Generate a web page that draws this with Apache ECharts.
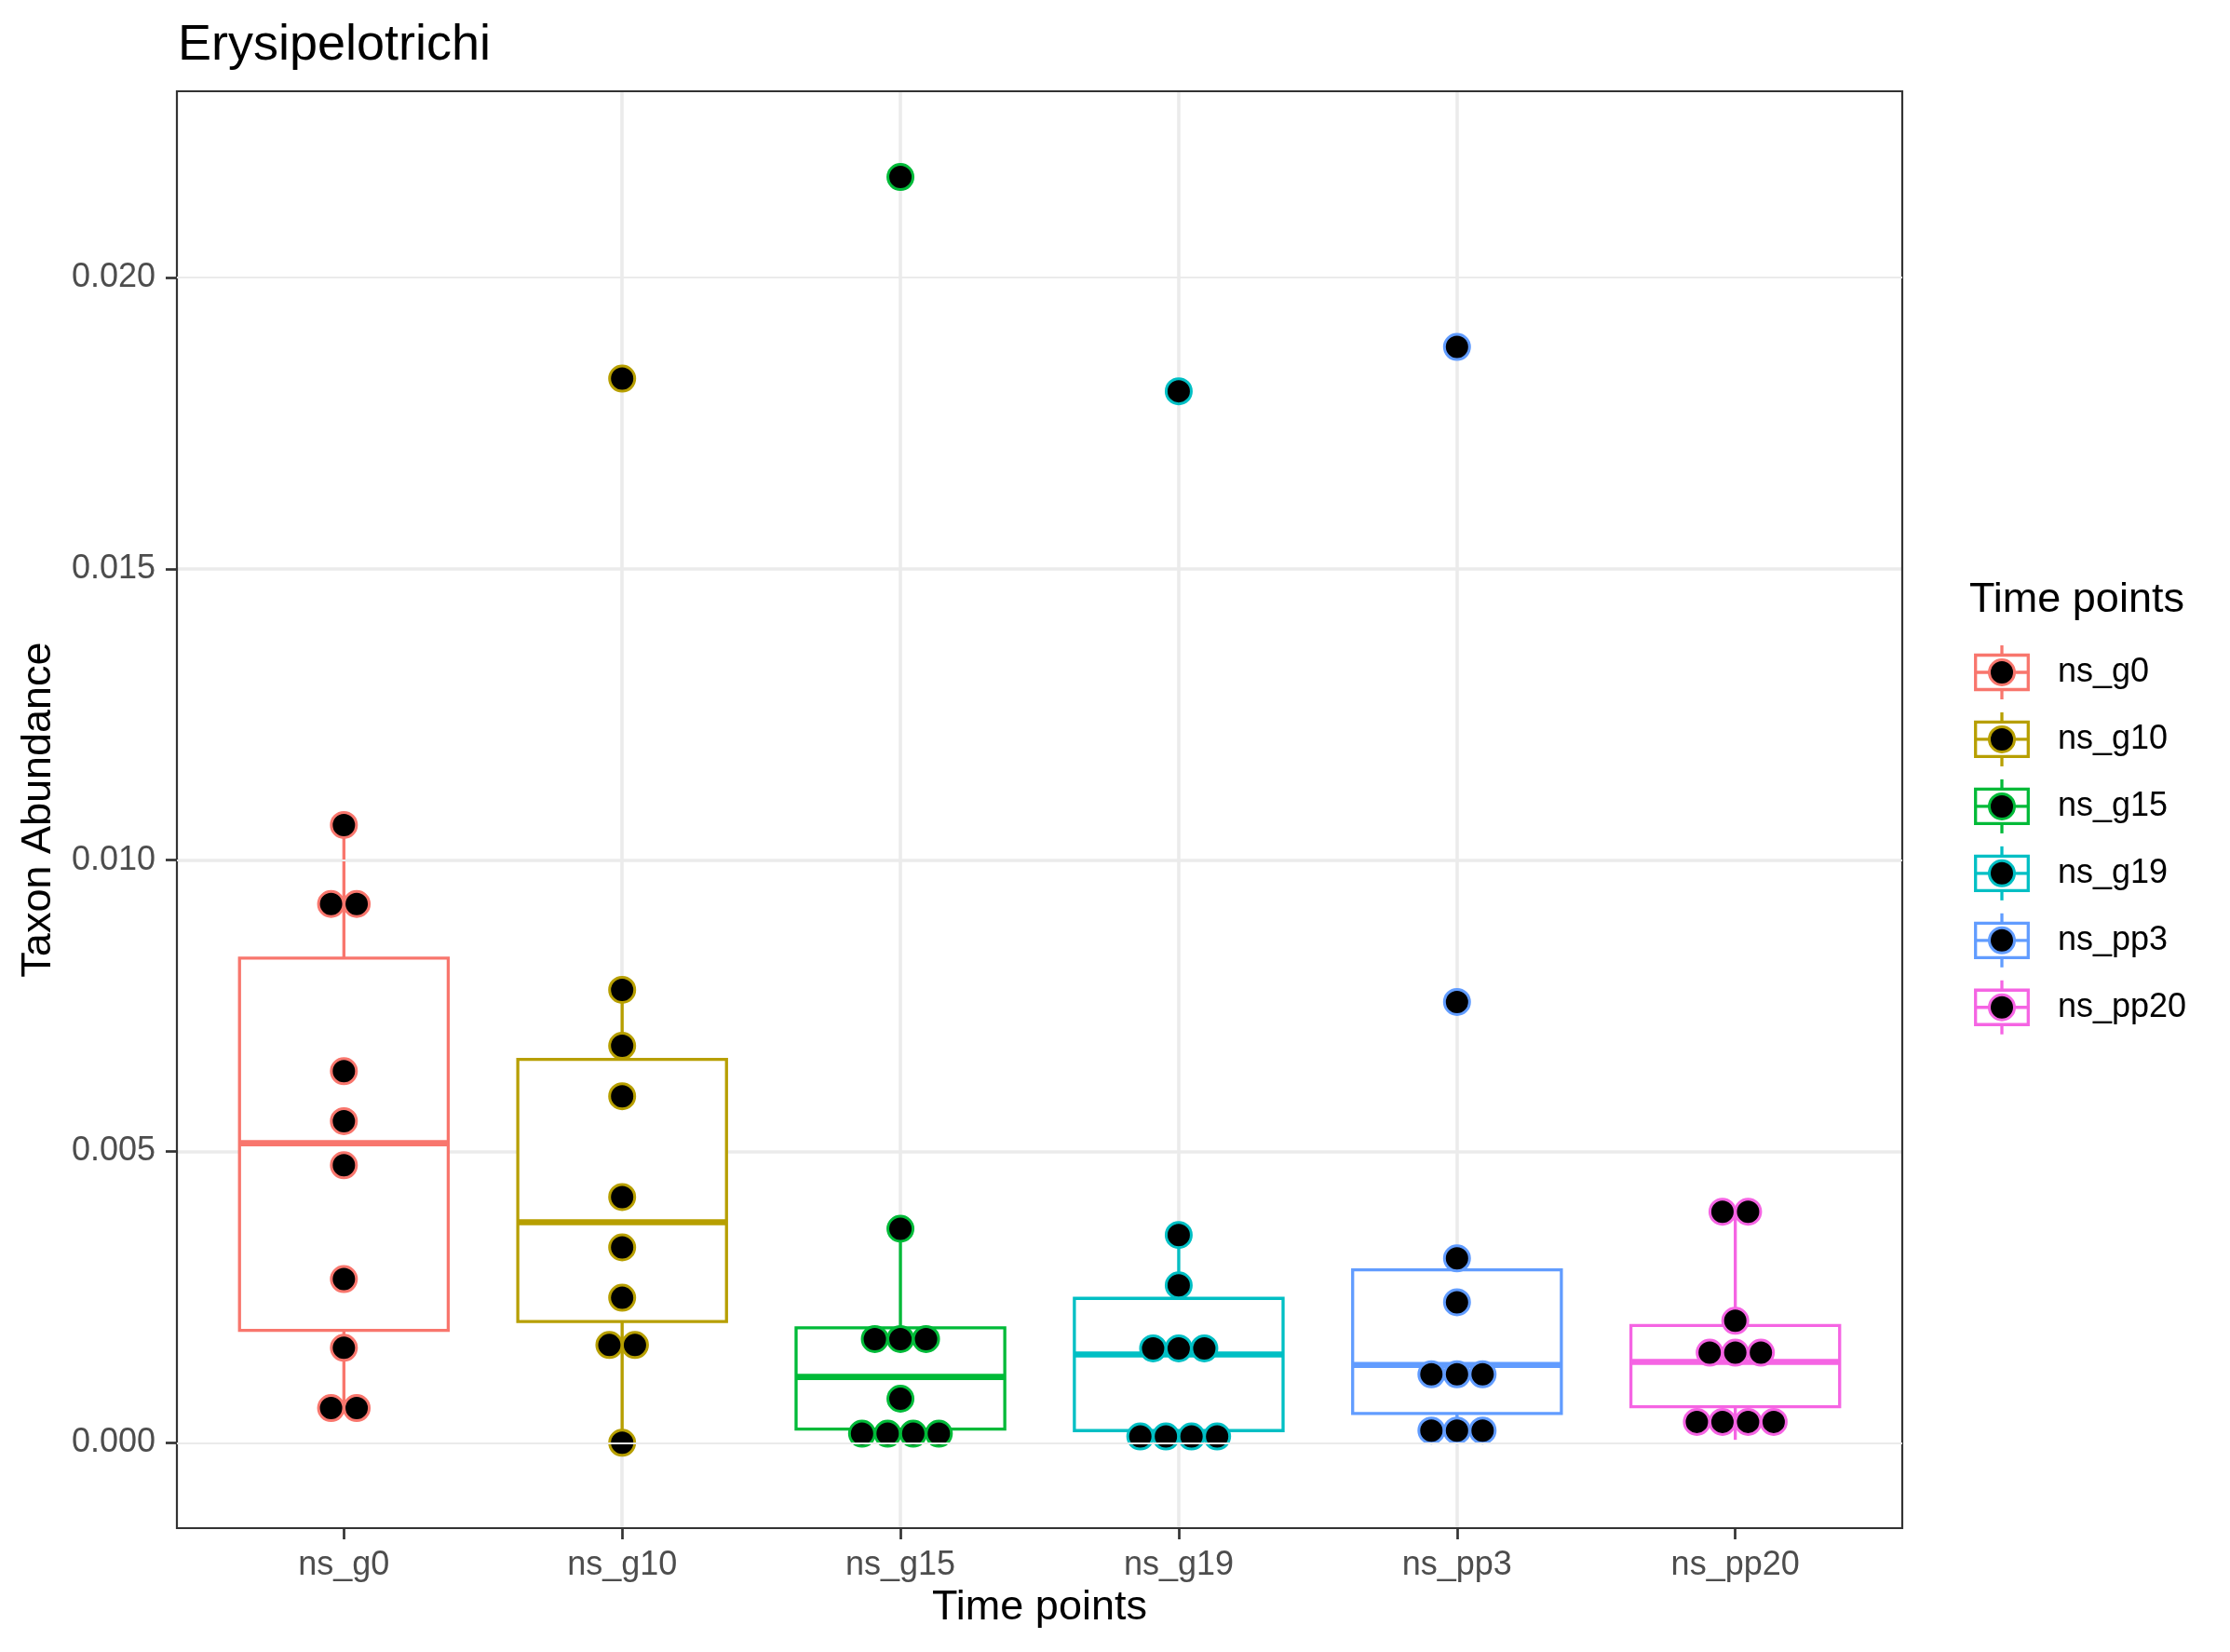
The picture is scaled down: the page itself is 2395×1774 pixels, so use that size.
<!DOCTYPE html>
<html><head><meta charset="utf-8">
<script src="https://cdn.jsdelivr.net/npm/echarts@6/dist/echarts.min.js"></script>
<style>html,body{margin:0;padding:0;background:#fff}#c{width:2395px;height:1774px}</style>
</head><body><div id="c"></div>
<script>
// ---------- data ----------
const categories = ['ns_g0', 'ns_g10', 'ns_g15', 'ns_g19', 'ns_pp3', 'ns_pp20'];
const yTicks = [0, 0.005, 0.010, 0.015, 0.020];
const yMinor = [0.0025, 0.0075, 0.0125, 0.0175, 0.0225];
const Y_MIN = -0.001466, Y_MAX = 0.023197;

// box statistics: [lower whisker, Q1, median, Q3, upper whisker]
const box_g0   = [0.000595, 0.001930, 0.005142, 0.008319, 0.010603];
const box_g10  = [0.000000, 0.002082, 0.003785, 0.006580, 0.007774];
const box_g15  = [0.000155, 0.000235, 0.001130, 0.001972, 0.003673];
const box_g19  = [0.000107, 0.000208, 0.001514, 0.002478, 0.003566];
const box_pp3  = [0.000210, 0.000502, 0.001335, 0.002968, 0.003164];
const box_pp20 = [0.000050, 0.000619, 0.001388, 0.002013, 0.003965];

// dot values (binned positions, repeated values stack side by side)
const pts_g0   = [0.010603, 0.009247, 0.009247, 0.006377, 0.005520, 0.004763, 0.002808, 0.001629, 0.000595, 0.000595];
const pts_g10  = [0.018265, 0.007774, 0.006812, 0.005947, 0.004218, 0.003353, 0.002488, 0.001677, 0.001677, 0.000000];
const pts_g15  = [0.021725, 0.003673, 0.001780, 0.001780, 0.001780, 0.000756, 0.000155, 0.000155, 0.000155, 0.000155];
const pts_g19  = [0.018048, 0.003566, 0.002702, 0.001620, 0.001620, 0.001620, 0.000107, 0.000107, 0.000107, 0.000107];
const pts_pp3  = [0.018809, 0.007566, 0.003164, 0.002411, 0.001175, 0.001175, 0.001175, 0.000210, 0.000210, 0.000210];
const pts_pp20 = [0.003965, 0.003965, 0.002093, 0.001546, 0.001546, 0.001546, 0.000358, 0.000358, 0.000358, 0.000358];

// ---------- styling ----------
const colors = ['#F8766D', '#B79F00', '#00BA38', '#00BFC4', '#619CFF', '#F564E3'];
const FONT = '"Liberation Sans", Arial, Helvetica, sans-serif';
const boxes = [box_g0, box_g10, box_g15, box_g19, box_pp3, box_pp20];
const points = [pts_g0, pts_g10, pts_g15, pts_g19, pts_pp3, pts_pp20];
const DOT_STEP = 27.5, DOT_SIZE = 27, DOT_BORDER = 3;
const BOX_LW = 3.3, MED_LW = 6.6;

function stackItems(vals, idx) {
  const counts = {}, seen = {};
  vals.forEach(v => { counts[v] = (counts[v] || 0) + 1; });
  return vals.map(v => {
    const n = counts[v];
    const k = seen[v] = (seen[v] === undefined ? 0 : seen[v] + 1);
    return { value: [idx, v], symbolOffset: [(k - (n - 1) / 2) * DOT_STEP, 0] };
  });
}

const chart = echarts.init(document.getElementById('c'), null, { renderer: 'canvas' });

const series = [];
// minor horizontal grid lines
series.push({
  type: 'line', data: [], z: 1, silent: true,
  markLine: {
    silent: true, symbol: ['none', 'none'], label: { show: false }, animation: false,
    lineStyle: { color: '#EBEBEB', width: 2, type: 'solid' },
    emphasis: { disabled: true },
    data: yMinor.map(v => ({ yAxis: v }))
  }
});
// boxes
series.push({
  type: 'custom', z: 2, silent: true,
  encode: { x: 0, y: [1, 2, 3, 4, 5] },
  data: boxes.map((b, i) => [i].concat(b)),
  renderItem: function (params, api) {
    const x = api.value(0);
    const lo = api.coord([x, api.value(1)]);
    const q1 = api.coord([x, api.value(2)]);
    const md = api.coord([x, api.value(3)]);
    const q3 = api.coord([x, api.value(4)]);
    const hi = api.coord([x, api.value(5)]);
    const hw = api.size([1, 0])[0] * 0.75 / 2;
    const c = colors[params.dataIndex];
    return {
      type: 'group', children: [
        { type: 'line', shape: { x1: q3[0], y1: q3[1], x2: hi[0], y2: hi[1] }, style: { stroke: c, lineWidth: BOX_LW } },
        { type: 'line', shape: { x1: q1[0], y1: q1[1], x2: lo[0], y2: lo[1] }, style: { stroke: c, lineWidth: BOX_LW } },
        { type: 'rect', shape: { x: q3[0] - hw, y: q3[1], width: 2 * hw, height: q1[1] - q3[1] }, style: { fill: '#ffffff', stroke: c, lineWidth: BOX_LW } },
        { type: 'line', shape: { x1: md[0] - hw, y1: md[1], x2: md[0] + hw, y2: md[1] }, style: { stroke: c, lineWidth: MED_LW } }
      ]
    };
  }
});
// dots
points.forEach((vals, i) => {
  series.push({
    type: 'scatter', name: categories[i], z: 3, silent: true,
    symbol: 'circle', symbolSize: DOT_SIZE,
    itemStyle: { color: '#000000', borderColor: colors[i], borderWidth: DOT_BORDER, opacity: 1 },
    data: stackItems(vals, i)
  });
});

// legend (drawn as graphic)
const LEG_CX = 2150, LEG_CY0 = 722, LEG_STEP = 71.95;
const legendEls = [{
  type: 'text', z: 10,
  style: { text: 'Time points', x: 2115, y: 622, fill: '#000', fontSize: 45, fontFamily: FONT,
           align: 'left', verticalAlign: 'top', textAlign: 'left', textVerticalAlign: 'top' }
}];
categories.forEach((name, i) => {
  const cy = LEG_CY0 + i * LEG_STEP, c = colors[i];
  legendEls.push(
    { type: 'line', z: 10, shape: { x1: LEG_CX, y1: cy - 29, x2: LEG_CX, y2: cy - 18.5 }, style: { stroke: c, lineWidth: BOX_LW } },
    { type: 'line', z: 10, shape: { x1: LEG_CX, y1: cy + 18.5, x2: LEG_CX, y2: cy + 29 }, style: { stroke: c, lineWidth: BOX_LW } },
    { type: 'rect', z: 10, shape: { x: LEG_CX - 28.3, y: cy - 18.5, width: 56.6, height: 37 }, style: { fill: '#fff', stroke: c, lineWidth: BOX_LW } },
    { type: 'line', z: 10, shape: { x1: LEG_CX - 28.3, y1: cy, x2: LEG_CX + 28.3, y2: cy }, style: { stroke: c, lineWidth: BOX_LW } },
    { type: 'circle', z: 11, shape: { cx: LEG_CX, cy: cy, r: DOT_SIZE / 2 }, style: { fill: '#000', stroke: c, lineWidth: DOT_BORDER } },
    { type: 'text', z: 10, style: { text: name, x: 2210, y: cy, fill: '#000', fontSize: 36, fontFamily: FONT,
        align: 'left', verticalAlign: 'middle', textAlign: 'left', textVerticalAlign: 'middle' } }
  );
});

const idx = categories.map((_, i) => i);

chart.setOption({
  animation: false,
  backgroundColor: '#ffffff',
  title: {
    text: 'Erysipelotrichi', left: 191, top: 22, padding: 0,
    textStyle: { fontSize: 54, fontWeight: 'normal', color: '#000', fontFamily: FONT }
  },
  grid: {
    left: 190, right: 352, top: 98, bottom: 133,
    show: true, borderColor: '#333333', borderWidth: 2.2, backgroundColor: 'transparent', z: 5
  },
  xAxis: {
    type: 'value', min: -0.6, max: 5.6, splitNumber: 6,
    name: 'Time points', nameLocation: 'middle', nameGap: 61,
    nameTextStyle: { fontSize: 45, color: '#000', fontFamily: FONT },
    axisLine: { show: false, onZero: false },
    axisTick: { show: true, length: 12, customValues: idx, lineStyle: { color: '#333333', width: 2.7 } },
    axisLabel: {
      show: true, customValues: idx, margin: 22, fontSize: 36, color: '#4D4D4D', fontFamily: FONT,
      formatter: v => categories[Math.round(v)]
    },
    splitLine: { show: true, showMinLine: false, showMaxLine: false, lineStyle: { color: '#EBEBEB', width: 3.6 } }
  },
  yAxis: {
    type: 'value', min: Y_MIN, max: Y_MAX, splitNumber: 5,
    name: 'Taxon Abundance', nameLocation: 'middle', nameGap: 126,
    nameTextStyle: { fontSize: 45, color: '#000', fontFamily: FONT },
    axisLine: { show: false, onZero: false },
    axisTick: { show: true, length: 12, customValues: yTicks, lineStyle: { color: '#333333', width: 2.7 } },
    axisLabel: {
      show: true, customValues: yTicks, margin: 23, fontSize: 36, color: '#4D4D4D', fontFamily: FONT,
      formatter: v => v.toFixed(3)
    },
    splitLine: { show: true, showMinLine: false, showMaxLine: false, lineStyle: { color: '#EBEBEB', width: 3.6 } }
  },
  graphic: { elements: legendEls },
  series: series
});
</script>
</body></html>
